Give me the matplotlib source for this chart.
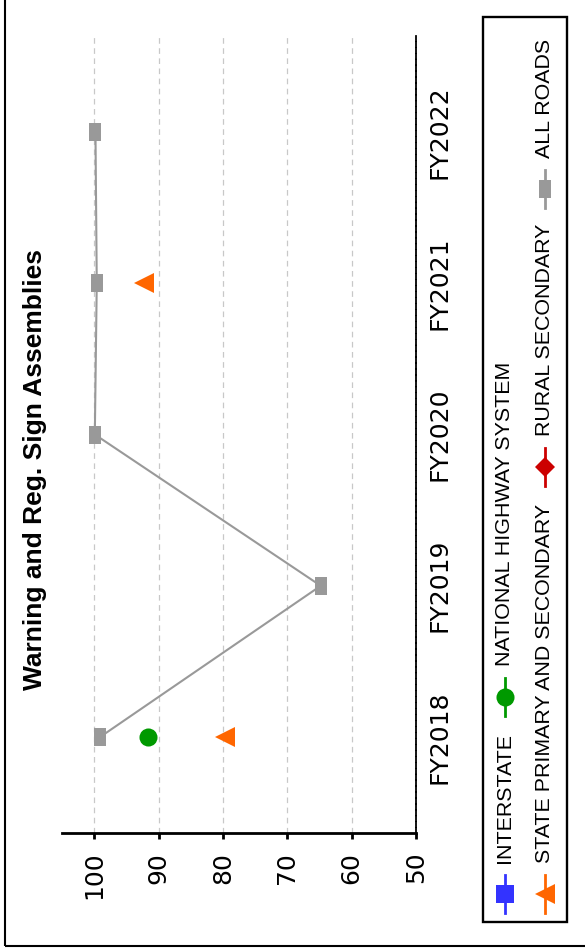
import numpy as np
import matplotlib.pyplot as plt
from matplotlib.lines import Line2D
from matplotlib.patches import Rectangle

# Data
years = ['FY2018', 'FY2019', 'FY2020', 'FY2021', 'FY2022']
interstate = [np.nan, np.nan, np.nan, np.nan, np.nan]
nhs = [91.7, np.nan, np.nan, np.nan, np.nan]
rural_secondary = [np.nan, np.nan, np.nan, np.nan, np.nan]
state_primary = [79.6, np.nan, np.nan, 92.3, np.nan]
all_roads = [99.1, 64.8, 99.9, 99.6, 99.8]
value_ticks = [50, 60, 70, 80, 90, 100]
title = 'Warning and Reg. Sign Assemblies'

# figure is laid out "on its side": values run right-to-left, years bottom-to-top
W, H = 585, 951
fig = plt.figure(figsize=(W / 100, H / 100), dpi=100)


def fx(px):
    return px / W


def fy(py):
    return 1 - py / H


rect_marker = [(-0.61, -1), (0.61, -1), (0.61, 1), (-0.61, 1), (-0.61, -1)]

series = [
    ('INTERSTATE', interstate, '#3333ff', 's', 13),
    ('NATIONAL HIGHWAY SYSTEM', nhs, '#009900', 'o', 13),
    ('RURAL SECONDARY', rural_secondary, '#cc0000', 'D', 10),
    ('STATE PRIMARY AND SECONDARY', state_primary, '#ff6600', '<', 14.5),
    ('ALL ROADS', all_roads, '#999999', rect_marker, 13),
]

ax = fig.add_axes([fx(62), fy(833), fx(416) - fx(62), fy(36) - fy(833)])
idx = np.arange(len(years))
for name, vals, col, mk, ms in series:
    ax.plot(vals, idx, color=col, marker=mk, markersize=ms, lw=1.5,
            markeredgewidth=0, zorder=3)

ax.set_xlim(105, 50)
ax.set_ylim(-0.634, 4.634)
ax.set_xticks(value_ticks)
ax.set_xticklabels([str(v) for v in value_ticks])
ax.grid(axis='x', color='#c8c8c8', linestyle=(0, (4.5, 3.6)), lw=0.9)
ax.set_axisbelow(True)

for s in ['top', 'left']:
    ax.spines[s].set_visible(False)
ax.spines['bottom'].set_linewidth(2)
ax.spines['right'].set_linestyle((0, (2.5, 0.8)))
ax.spines['right'].set_linewidth(1.3)

ax.tick_params(axis='x', length=4.5, width=2, pad=9, labelsize=18,
               labelrotation=90)
ax.yaxis.tick_right()
ax.set_yticks(idx)
ax.set_yticklabels(years, rotation=90, va='center', fontsize=18)
ax.tick_params(axis='y', length=0, pad=8)

fig.text(fx(35), fy(470), title, rotation=90, ha='center', va='center',
         fontsize=19, fontweight='bold', family='Liberation Sans')

# outer frame
fig.add_artist(Rectangle((fx(5.3), fy(945.7)), 2, 2, transform=fig.transFigure,
                         fill=False, lw=1.5, ec='black'))

# legend (drawn by hand so it can sit rotated)
fig.add_artist(Rectangle((fx(483.3), fy(922.3)), fx(567.3) - fx(483.3),
                         fy(17) - fy(922.3), transform=fig.transFigure,
                         fill=False, lw=1.7, ec='black'))
leg_pos = {
    'INTERSTATE': (505, 894),
    'NATIONAL HIGHWAY SYSTEM': (505, 697),
    'STATE PRIMARY AND SECONDARY': (545, 894),
    'RURAL SECONDARY': (545, 467),
    'ALL ROADS': (545, 189),
}
for name, vals, col, mk, ms in series:
    lx, ly = leg_pos[name]
    fig.add_artist(Line2D([fx(lx), fx(lx)], [fy(ly + 19), fy(ly - 19)],
                          color=col, lw=2, transform=fig.transFigure))
    fig.add_artist(Line2D([fx(lx)], [fy(ly)], color=col, marker=mk,
                          markersize=ms, markeredgewidth=0,
                          transform=fig.transFigure))
    fig.text(fx(lx), fy(ly - 31), name, rotation=90, ha='center', va='bottom',
             fontsize=15.4, family='Liberation Sans')

fig.savefig('out.png', dpi=100)
